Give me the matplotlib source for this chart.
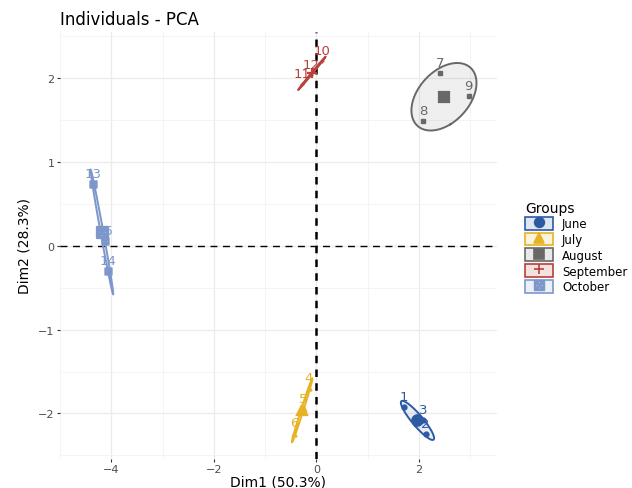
import numpy as np
import matplotlib
matplotlib.use('Agg')
import matplotlib.pyplot as plt
from matplotlib.patches import Patch
from matplotlib.lines import Line2D

# individuals (PCA coordinates)
ind_labels = ['1', '2', '3', '4', '5', '6', '7', '8', '9', '10', '11', '12', '13', '14', '15']
dim1 = [1.71, 2.13, 2.08, -0.15, -0.25, -0.43, 2.42, 2.08, 2.97, 0.11, -0.27, -0.10, -4.36, -4.06, -4.13]
dim2 = [-1.92, -2.25, -2.08, -1.70, -1.95, -2.24, 2.06, 1.49, 1.79, 2.21, 1.93, 2.04, 0.74, -0.30, 0.06]
groups = ['June'] * 3 + ['July'] * 3 + ['August'] * 3 + ['September'] * 3 + ['October'] * 3

months = ['June', 'July', 'August', 'September', 'October']
month_colors = ['#2d5ba3', '#e5b324', '#6a6866', '#b8413b', '#7e97cb']
month_markers = ['o', '^', 's', '+', r'$\boxtimes$']

x_ticks = [-4, -2, 0, 2]
y_ticks = [-2, -1, 0, 1, 2]

# 95% confidence ellipse of the group mean (chi2 with 2 df)
chi_scale = np.sqrt(-2 * np.log(0.05))


def conf_ellipse(x, y, npts=100):
    pts = np.column_stack([x, y])
    cov = np.cov(pts, rowvar=False) / len(pts)
    vals, vecs = np.linalg.eigh(cov)
    t = np.linspace(0, 2 * np.pi, npts)
    circle = np.vstack([np.cos(t), np.sin(t)])
    ell = vecs @ (np.sqrt(np.maximum(vals, 0))[:, None] * circle) * chi_scale
    return pts.mean(axis=0)[0] + ell[0], pts.mean(axis=0)[1] + ell[1]


plt.rcParams['font.family'] = 'DejaVu Sans'

fig = plt.figure(figsize=(6.32, 4.89), dpi=100)
ax = fig.add_axes([0.095, 0.06, 0.691, 0.872])

dim1 = np.array(dim1)
dim2 = np.array(dim2)
groups = np.array(groups)

handles = []
for month, color, marker in zip(months, month_colors, month_markers):
    sel = groups == month
    gx, gy = dim1[sel], dim2[sel]
    ex, ey = conf_ellipse(gx, gy)
    ax.fill(ex, ey, color=color, alpha=0.1, lw=0, zorder=2)
    ax.plot(ex, ey, color=color, lw=1.4, zorder=3)
    small = 3.5 if marker != r'$\boxtimes$' else 5
    big = 7.5 if marker != r'$\boxtimes$' else 8
    ax.plot(gx, gy, ls='none', marker=marker, color=color, ms=small, mew=1.0, zorder=4)
    ax.plot(gx.mean(), gy.mean(), ls='none', marker=marker, color=color, ms=big, mew=1.6, zorder=4)
    for lab, px, py in zip(np.array(ind_labels)[sel], gx, gy):
        ax.annotate(lab, (px, py), xytext=(0, 3), textcoords='offset points',
                    ha='center', va='bottom', color=color, fontsize=9.5, zorder=5)
    handles.append((Patch(facecolor=color, alpha=0.15, edgecolor='none'),
                    Patch(facecolor='none', edgecolor=color, lw=1.2),
                    Line2D([], [], ls='none', marker=marker, color=color, ms=7, mew=1.2)))

ax.axhline(0, color='black', ls=(0, (5, 4)), lw=1.0, zorder=1)
ax.axvline(0, color='black', ls=(0, (3, 2.5)), lw=1.8, zorder=1)

ax.set_xlim(-4.8, 3.52)
ax.set_ylim(-2.54, 2.55)
ax.set_xticks(x_ticks)
ax.set_yticks(y_ticks)
ax.set_xticks([-5, -3, -1, 1, 3], minor=True)
ax.set_yticks([-2.5, -1.5, -0.5, 0.5, 1.5, 2.5], minor=True)
ax.grid(True, which='major', color='#ebebeb', lw=0.9)
ax.grid(True, which='minor', color='#f2f2f2', lw=0.6)
ax.set_axisbelow(True)
for s in ax.spines.values():
    s.set_visible(False)
ax.tick_params(which='major', length=2.5, width=0.8, color='#333333', labelsize=8,
               labelcolor='#4d4d4d', pad=1.5)
ax.tick_params(which='minor', length=0)

ax.set_xlabel('Dim1 (50.3%)', fontsize=10, labelpad=0)
ax.set_ylabel('Dim2 (28.3%)', fontsize=10, labelpad=5)
ax.set_title('Individuals - PCA', fontsize=12, loc='left', pad=6)

leg = fig.legend(handles, months, title='Groups', loc='upper left',
                 bbox_to_anchor=(0.822, 0.6), frameon=False, fontsize=8.5,
                 title_fontsize=10, handlelength=2.3, handleheight=1.3,
                 labelspacing=0.2, handletextpad=0.8, borderpad=0,
                 alignment='left')

fig.savefig('out.png', dpi=100)
